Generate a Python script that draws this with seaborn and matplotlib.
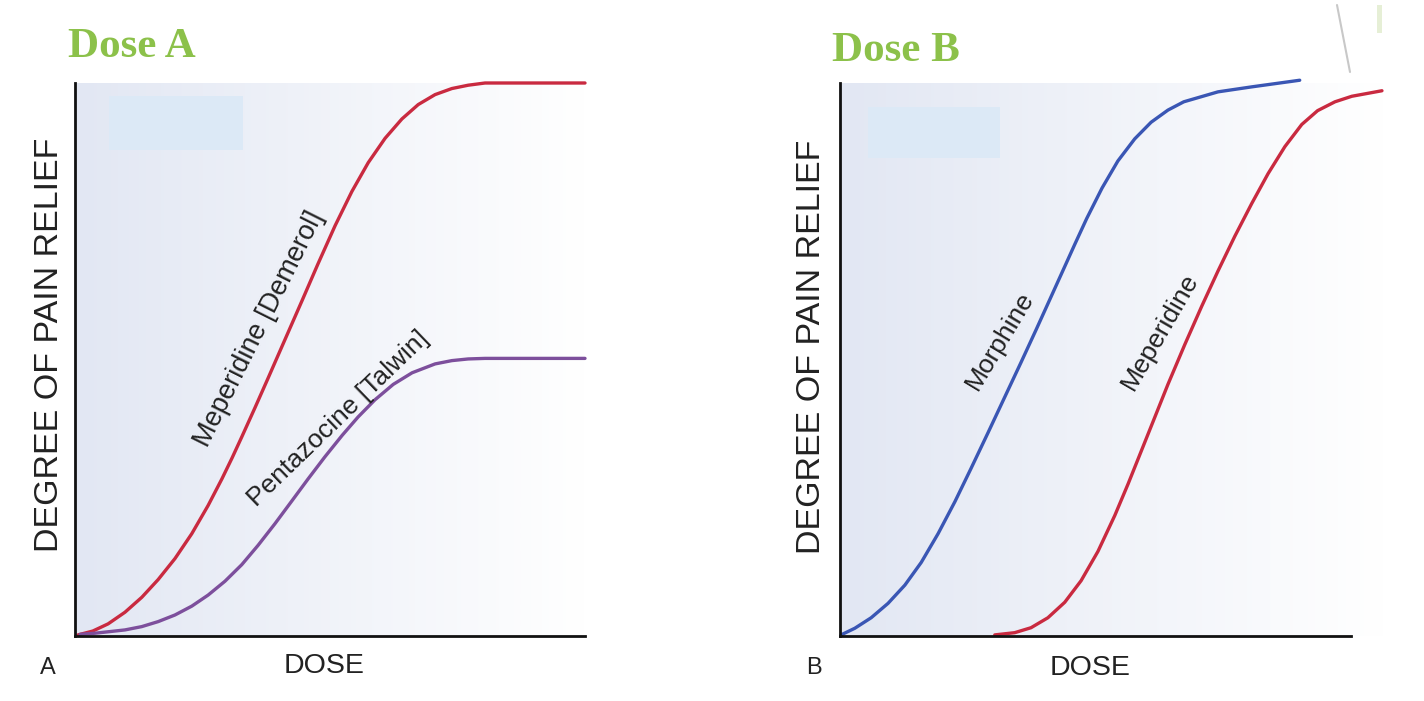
import numpy as np
import pandas as pd
import matplotlib
matplotlib.use("Agg")
import matplotlib.pyplot as plt
import seaborn as sns
from matplotlib.patches import Rectangle
from matplotlib.lines import Line2D

# ---------------- data ----------------
# Panel A
meperidine_a_dose = [0.06, 0.35, 0.65, 0.98, 1.31, 1.63, 1.96, 2.29, 2.61, 2.88, 3.08, 3.27,
                     3.53, 3.78, 4.06, 4.45, 4.76, 5.10, 5.43, 5.75, 6.08, 6.41, 6.73, 7.06,
                     7.39, 7.71, 8.04, 10.0]
meperidine_a_relief = [0.2, 0.9, 2.2, 4.3, 7.0, 10.2, 14.0, 18.5, 23.6, 28.4, 32.2, 36.0,
                       41.3, 46.5, 52.4, 60.6, 67.2, 74.2, 80.4, 85.6, 90.0, 93.5, 96.1, 97.9,
                       99.0, 99.6, 100.0, 100.0]
pentazocine_dose = [0.1, 0.39, 0.98, 1.31, 1.63, 1.96, 2.29, 2.61, 2.94, 3.27, 3.59, 3.92,
                    4.25, 4.57, 4.90, 5.24, 5.55, 5.88, 6.24, 6.61, 7.06, 7.39, 7.71, 8.04, 10.0]
pentazocine_relief = [0.3, 0.5, 1.1, 1.7, 2.6, 3.8, 5.4, 7.4, 9.9, 12.9, 16.4, 20.3,
                      24.4, 28.4, 32.4, 36.3, 39.6, 42.7, 45.5, 47.6, 49.2, 49.8, 50.1, 50.2, 50.2]
# Panel B
morphine_dose = [0.02, 0.29, 0.61, 0.94, 1.27, 1.59, 1.92, 2.25, 2.56, 2.90, 3.23, 3.54,
                 3.84, 4.11, 4.36, 4.60, 4.83, 5.13, 5.44, 5.77, 6.09, 6.42, 6.73, 7.40,
                 8.06, 9.00]
morphine_relief = [0.2, 1.4, 3.3, 5.9, 9.2, 13.3, 18.5, 24.3, 30.2, 36.8, 43.3, 49.4,
                   55.4, 60.9, 66.0, 70.9, 75.5, 81.0, 85.9, 89.9, 92.9, 95.1, 96.6, 98.4,
                   99.3, 100.5]
meperidine_b_dose = [3.03, 3.42, 3.74, 4.07, 4.40, 4.72, 5.05, 5.38, 5.64, 5.87, 6.13, 6.42,
                     6.75, 7.08, 7.40, 7.73, 8.06, 8.38, 8.71, 9.04, 9.35, 9.69, 10.02, 10.61]
meperidine_b_relief = [0.2, 0.6, 1.5, 3.3, 6.1, 10.0, 15.3, 21.8, 27.5, 32.8, 38.8, 45.5,
                       52.7, 59.6, 66.0, 72.3, 78.2, 83.6, 88.5, 92.5, 95.0, 96.6, 97.6, 98.6]

panel_titles = ["Dose A", "Dose B"]
panel_letters = ["A", "B"]
x_label = "DOSE"
y_label = "DEGREE OF PAIN RELIEF"
labels_a = ["Meperidine [Demerol]", "Pentazocine [Talwin]"]
labels_b = ["Morphine", "Meperidine"]

# ---------------- style ----------------
sns.set_style("white")
plt.rcParams["font.family"] = ["Liberation Sans", "DejaVu Sans"]

W, H = 1424, 701
fig = plt.figure(figsize=(W / 100, H / 100), dpi=100)
fig.patch.set_facecolor("white")

RED = "#c92a40"
PURPLE = "#7d4f9c"
BLUE = "#3a56b4"
GREEN = "#8cc14a"
TXT = "#222222"


def px_axes(left, right, top, bottom):
    return fig.add_axes([left / W, 1 - bottom / H, (right - left) / W, (bottom - top) / H])


def gradient(ax, x1):
    grad = np.linspace(0, 1, 256)[None, :]
    c0 = np.array([226, 231, 243]) / 255
    c1 = np.array([255, 255, 255]) / 255
    img = c0[None, None, :] * (1 - grad[..., None]) + c1[None, None, :] * grad[..., None]
    ax.imshow(img, extent=[0, x1, 0, 100], aspect="auto", zorder=0, interpolation="bilinear")


def style_axes(ax, xmax, spine_end):
    ax.set_xlim(0, xmax)
    ax.set_ylim(0, 100)
    ax.set_xticks([])
    ax.set_yticks([])
    ax.set_xlabel("")
    ax.set_ylabel("")
    ax.set_facecolor("none")
    for s in ["top", "right"]:
        ax.spines[s].set_visible(False)
    for s in ["left", "bottom"]:
        ax.spines[s].set_color("#111111")
        ax.spines[s].set_linewidth(2.0)
        ax.spines[s].set_zorder(5)
    ax.spines["bottom"].set_bounds(0, spine_end)
    ax.spines["left"].set_bounds(0, 100)


line_kw = dict(lw=2.4, sort=False, estimator=None, zorder=3, clip_on=False,
               solid_joinstyle="round", solid_capstyle="round")

# Panel A
axA = px_axes(75, 585, 83, 636)
gradient(axA, 10)
axA.add_patch(Rectangle((0.67, 87.9), 2.62, 9.7, color="#dce9f6", zorder=1, lw=0))
dfA1 = pd.DataFrame({"dose": meperidine_a_dose, "relief": meperidine_a_relief})
dfA2 = pd.DataFrame({"dose": pentazocine_dose, "relief": pentazocine_relief})
sns.lineplot(data=dfA1, x="dose", y="relief", ax=axA, color=RED, **line_kw)
sns.lineplot(data=dfA2, x="dose", y="relief", ax=axA, color=PURPLE, **line_kw)
style_axes(axA, 10, 10)

# Panel B
axB = px_axes(840, 1384, 83, 636)
gradient(axB, 10.65)
axB.add_patch(Rectangle((0.55, 86.4), 2.58, 9.3, color="#dce9f6", zorder=1, lw=0))
dfB1 = pd.DataFrame({"dose": morphine_dose, "relief": morphine_relief})
dfB2 = pd.DataFrame({"dose": meperidine_b_dose, "relief": meperidine_b_relief})
sns.lineplot(data=dfB1, x="dose", y="relief", ax=axB, color=BLUE, **line_kw)
sns.lineplot(data=dfB2, x="dose", y="relief", ax=axB, color=RED, **line_kw)
style_axes(axB, 10.65, 10)


def ftext(x, y, s, **kw):
    fig.text(x / W, 1 - y / H, s, **kw)


# titles
ftext(68, 57, panel_titles[0], family="Liberation Serif", weight="bold", fontsize=31,
      color=GREEN, ha="left", va="baseline")
ftext(832, 61, panel_titles[1], family="Liberation Serif", weight="bold", fontsize=31,
      color=GREEN, ha="left", va="baseline")

# axis labels
ftext(50, 345, y_label, rotation=90, fontsize=24.5, color=TXT, ha="center", va="center")
ftext(812, 347, y_label, rotation=90, fontsize=24.5, color=TXT, ha="center", va="center")
ftext(324, 666, x_label, fontsize=20.5, color=TXT, ha="center", va="center")
ftext(1090, 668, x_label, fontsize=20.5, color=TXT, ha="center", va="center")
ftext(48, 668, panel_letters[0], fontsize=17, color=TXT, ha="center", va="center")
ftext(814, 668, panel_letters[1], fontsize=17, color=TXT, ha="center", va="center")

# curve labels
ftext(259, 329, labels_a[0], rotation=63.5, fontsize=19.5, color=TXT, ha="center", va="center",
      rotation_mode="anchor")
ftext(338, 419, labels_a[1], rotation=44, fontsize=19, color=TXT, ha="center", va="center",
      rotation_mode="anchor")
ftext(1000, 341, labels_b[0], rotation=59, fontsize=19, color=TXT, ha="center", va="center",
      rotation_mode="anchor")
ftext(1160, 332, labels_b[1], rotation=60, fontsize=19, color=TXT, ha="center", va="center",
      rotation_mode="anchor")

# decorative strokes at top right
fig.add_artist(Line2D([1337 / W, 1350 / W], [1 - 5 / H, 1 - 72 / H], color="#c8c8c8", lw=1.5))
fig.add_artist(Rectangle((1377 / W, 1 - 33 / H), 5 / W, 28 / H, color="#e6efd6", lw=0))

fig.savefig("out.png", dpi=100, facecolor="white")
